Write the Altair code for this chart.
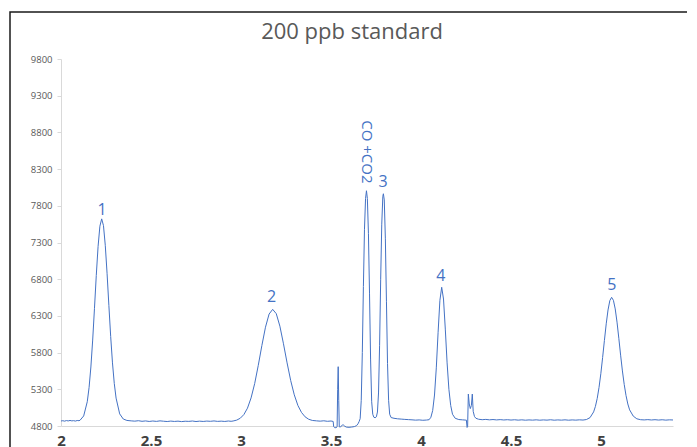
import altair as alt
import pandas as pd

# ---- chromatogram trace (retention time, signal) ----
trace_x = [
    2.000, 2.010, 2.020, 2.030, 2.040, 2.050, 2.060, 2.070, 2.080, 2.090, 2.100,
    2.106, 2.126, 2.146, 2.156, 2.166, 2.176, 2.186, 2.196, 2.206, 2.216, 2.226,
    2.236, 2.246, 2.256, 2.266, 2.276, 2.286, 2.296, 2.306, 2.326, 2.346, 2.366,
    2.39, 2.41, 2.43, 2.45, 2.47, 2.49, 2.51, 2.53, 2.55, 2.57, 2.59, 2.61, 2.63,
    2.65, 2.67, 2.69, 2.71, 2.73, 2.75, 2.77, 2.79, 2.81, 2.83, 2.85, 2.87, 2.89,
    2.91, 2.93, 2.945,
    2.956, 2.976, 2.996, 3.016, 3.036, 3.056, 3.076, 3.096, 3.116, 3.136, 3.156,
    3.176, 3.196, 3.216, 3.236, 3.256, 3.276, 3.296, 3.316, 3.336, 3.356, 3.376, 3.396,
    3.42, 3.44, 3.46, 3.48, 3.50, 3.512,
    3.515, 3.520, 3.528, 3.534, 3.537, 3.540, 3.543, 3.546, 3.552, 3.558, 3.564,
    3.570, 3.576, 3.585, 3.600, 3.615, 3.630, 3.642, 3.650, 3.656,
    3.662, 3.668, 3.674, 3.680, 3.686, 3.692, 3.697, 3.702, 3.708, 3.714, 3.720,
    3.726, 3.732, 3.738, 3.745, 3.752, 3.758, 3.764, 3.770, 3.776, 3.782, 3.788,
    3.791, 3.796, 3.802, 3.808, 3.814, 3.820, 3.826, 3.834,
    3.85, 3.87, 3.89, 3.91, 3.93, 3.95, 3.97, 3.99, 4.01, 4.03,
    4.045, 4.055, 4.065, 4.075, 4.085, 4.095, 4.105, 4.115, 4.125, 4.135, 4.145,
    4.155, 4.165, 4.175, 4.19, 4.21, 4.23, 4.245,
    4.252, 4.256, 4.259, 4.263, 4.268, 4.274, 4.280, 4.285, 4.290, 4.297, 4.305, 4.32,
    4.34, 4.36, 4.38, 4.40, 4.42, 4.44, 4.46, 4.48, 4.50, 4.52, 4.54, 4.56, 4.58,
    4.60, 4.62, 4.64, 4.66, 4.68, 4.70, 4.72, 4.74, 4.76, 4.78, 4.80, 4.82, 4.84,
    4.86, 4.88, 4.90,
    4.919, 4.939, 4.959, 4.969, 4.979, 4.989, 4.999, 5.009, 5.019, 5.029, 5.039,
    5.049, 5.059, 5.069, 5.079, 5.089, 5.099, 5.109, 5.119, 5.129, 5.139, 5.149,
    5.159, 5.179, 5.199, 5.22,
    5.24, 5.26, 5.28, 5.30, 5.32, 5.34, 5.36, 5.38, 5.40,
]
trace_y = [
    4868, 4872, 4866, 4874, 4869, 4876, 4870, 4873, 4867, 4875, 4872,
    4879, 4937, 5131, 5325, 5604, 5971, 6403, 6850, 7247, 7522, 7622,
    7530, 7262, 6875, 6440, 6020, 5660, 5380, 5180, 4965, 4895, 4876,
    4870, 4866, 4872, 4864, 4869, 4862, 4868, 4863, 4870, 4865, 4861, 4867, 4862,
    4866, 4860, 4865, 4863, 4868, 4861, 4866, 4862, 4867, 4864, 4869, 4863, 4866,
    4862, 4868, 4864,
    4868, 4880, 4906, 4956, 5043, 5183, 5378, 5626, 5897, 6146, 6325,
    6389, 6330, 6160, 5920, 5660, 5420, 5225, 5080, 4985, 4925, 4892, 4876,
    4870, 4866, 4871, 4864, 4868, 4862,
    4790, 4778, 4776, 4790, 5300, 5608, 5150, 4790, 4785, 4800, 4816,
    4812, 4798, 4785, 4782, 4786, 4792, 4805, 4830, 4860,
    4900, 5150, 5800, 6700, 7480, 7900, 8005, 7900, 7420, 6600, 5700,
    5130, 4960, 4920, 4912, 4925, 4990, 5250, 5900, 6800, 7550, 7930,
    7964, 7880, 7350, 6500, 5650, 5150, 4960, 4915,
    4905, 4898, 4894, 4890, 4887, 4884, 4880, 4883, 4878, 4881,
    4886, 4919, 5012, 5222, 5592, 6077, 6512, 6690, 6530, 6120, 5660,
    5300, 5080, 4960, 4905, 4888, 4884, 4881,
    4880, 4780, 4790, 5235, 5100, 5037, 5080, 5235, 5000, 4930, 4905, 4892,
    4886, 4890, 4884, 4888, 4883, 4887, 4882, 4886, 4881, 4885, 4880, 4884, 4879,
    4883, 4880, 4884, 4879, 4883, 4880, 4885, 4879, 4883, 4880, 4884, 4879, 4883,
    4880, 4884, 4881,
    4888, 4914, 4992, 5067, 5176, 5325, 5512, 5732, 5966, 6192, 6381,
    6508, 6553, 6512, 6395, 6215, 5995, 5765, 5550, 5365, 5215, 5100,
    5020, 4935, 4898, 4886,
    4883, 4887, 4882, 4886, 4881, 4885, 4880, 4884, 4882,
]

# ---- peak annotations ----
peak_labels = ["1", "2", "3", "4", "5"]
peak_label_x = [2.228, 3.17, 3.79, 4.11, 5.06]
peak_label_y = [7743, 6556, 8125, 6843, 6720]
co_label = ["CO +CO2"]
co_label_x = [3.698]
co_label_y = [8534]

chart_title = ["200 ppb standard"]

x_ticks = [2, 2.5, 3, 3.5, 4, 4.5, 5]
y_ticks = [4800, 5300, 5800, 6300, 6800, 7300, 7800, 8300, 8800, 9300, 9800]

BLUE = "#4472C4"
FONT = "Open Sans"

trace = pd.DataFrame({"t": trace_x, "v": trace_y})
peaks = pd.DataFrame({"t": peak_label_x, "v": peak_label_y, "label": peak_labels})
co = pd.DataFrame({"t": co_label_x, "v": co_label_y, "label": co_label})
title_df = pd.DataFrame({"label": chart_title})

xscale = alt.Scale(domain=[2, 5.4], nice=False, zero=False)
yscale = alt.Scale(domain=[4800, 9800], nice=False, zero=False)

x_axis = alt.Axis(
    values=x_ticks, format="~g", title=None, grid=False, ticks=False, tickSize=0,
    domainColor="#D9D9D9", domainWidth=1, labelFlush=False, labelOverlap=False,
    labelFont=FONT, labelFontSize=15, labelFontWeight="bold", labelColor="#404040",
    labelBaseline="middle", labelPadding=14,
)
y_axis = alt.Axis(
    values=y_ticks, format="d", title=None, grid=False, ticks=True, tickSize=4,
    tickColor="#D9D9D9", domainColor="#D9D9D9", domainWidth=1,
    labelOverlap=False, labelFlush=False, labelBound=False,
    labelFont=FONT, labelFontSize=9.5, labelColor="#595959", labelPadding=5,
)

line = alt.Chart(trace).mark_line(color=BLUE, strokeWidth=1).encode(
    x=alt.X("t:Q", scale=xscale, axis=x_axis),
    y=alt.Y("v:Q", scale=yscale, axis=y_axis),
    order="t:Q",
)

peak_text = alt.Chart(peaks).mark_text(
    color=BLUE, font=FONT, fontSize=16, align="center", baseline="middle"
).encode(
    x=alt.X("t:Q", scale=xscale, axis=x_axis),
    y=alt.Y("v:Q", scale=yscale, axis=y_axis),
    text="label:N",
)

co_text = alt.Chart(co).mark_text(
    color=BLUE, font=FONT, fontSize=15, align="center", baseline="middle", angle=90
).encode(
    x=alt.X("t:Q", scale=xscale, axis=x_axis),
    y=alt.Y("v:Q", scale=yscale, axis=y_axis),
    text="label:N",
)

title_text = alt.Chart(title_df).mark_text(
    color="#595959", font=FONT, fontSize=22, align="center", baseline="middle"
).encode(
    x=alt.value(291), y=alt.value(-27), text="label:N"
)

frame = alt.Chart(pd.DataFrame({"a": [0]})).mark_rect(
    filled=False, stroke="#1a1a1a", strokeWidth=1.5
).encode(
    x=alt.value(-51), x2=alt.value(634), y=alt.value(-47), y2=alt.value(430)
)

chart = alt.layer(frame, line, peak_text, co_text, title_text).properties(
    width=612,
    height=367,
    autosize=alt.AutoSizeParams(type="none"),
    padding={"left": 53, "top": 51, "right": 14, "bottom": 30},
).configure_view(stroke=None).configure_axisY(labelOverlap=False)

chart.save("out.html", embed_options={"renderer": "svg", "actions": False})
